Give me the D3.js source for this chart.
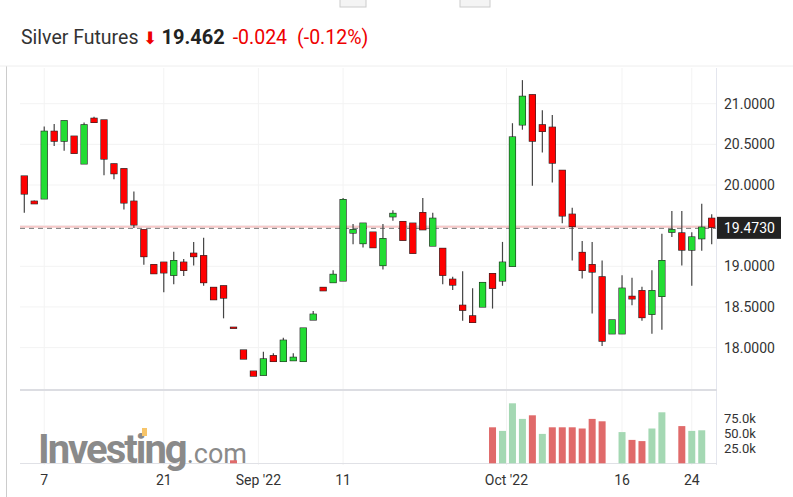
<!DOCTYPE html>
<html><head><meta charset="utf-8">
<script src="https://cdn.jsdelivr.net/npm/d3@7"></script>
<style>body{margin:0;background:#fff;font-family:Roboto,"Noto Sans",sans-serif}</style>
</head><body><svg id="chart" width="793" height="497"></svg>
<script>
// OHLC per candle
const opens  = [20.11,19.80,19.83,20.66,20.54,20.60,20.26,20.82,20.80,20.26,20.20,19.80,19.45,19.02,19.05,18.89,19.05,19.16,19.13,18.74,18.76,18.25,17.97,17.71,17.66,17.90,17.83,17.84,17.83,18.34,18.74,18.80,18.82,19.41,19.28,19.42,19.01,19.61,19.55,19.53,19.66,19.25,19.22,18.84,18.52,18.39,18.50,18.91,18.82,19.00,20.74,21.11,20.74,20.71,20.18,19.64,19.17,19.02,18.87,18.17,18.17,18.63,18.70,18.41,18.63,19.42,19.41,19.20,19.34,19.59];
const highs  = [20.11,19.81,20.72,20.75,20.79,20.60,20.77,20.84,20.80,20.26,20.20,19.92,19.45,19.02,19.05,19.18,19.09,19.30,19.35,18.74,18.76,18.25,17.97,17.71,17.95,17.93,18.12,17.93,18.24,18.45,18.74,18.95,19.84,19.52,19.53,19.42,19.52,19.69,19.55,19.53,19.84,19.66,19.22,18.87,18.94,18.73,18.80,18.91,19.30,20.76,21.29,21.11,20.92,20.86,20.18,19.72,19.31,19.30,19.07,18.34,18.89,18.86,18.75,18.95,19.40,19.68,19.68,19.42,19.77,19.64];
const lows   = [19.66,19.77,19.83,20.48,20.42,20.39,20.26,20.77,20.12,20.07,19.70,19.47,19.02,18.91,18.68,18.78,18.88,19.01,18.76,18.59,18.36,18.245,17.86,17.65,17.66,17.83,17.83,17.84,17.83,18.34,18.70,18.80,18.82,19.27,19.23,19.23,18.96,19.56,19.32,19.16,19.45,19.25,18.78,18.71,18.33,18.31,18.50,18.48,18.76,19.00,20.68,19.99,20.40,20.03,19.53,19.07,18.85,18.42,18.02,18.17,18.17,18.52,18.33,18.17,18.22,19.36,19.01,18.76,19.19,19.27];
const closes = [19.89,19.77,20.66,20.54,20.79,20.39,20.74,20.77,20.32,20.14,19.78,19.51,19.12,18.91,18.92,19.07,18.95,19.12,18.80,18.59,18.61,18.245,17.86,17.65,17.86,17.83,18.09,17.88,18.24,18.41,18.70,18.90,19.82,19.45,19.53,19.23,19.34,19.65,19.32,19.16,19.45,19.59,18.89,18.77,18.46,18.31,18.80,18.73,19.05,20.59,21.09,20.54,20.66,20.27,19.62,19.49,18.95,18.93,18.08,18.34,18.73,18.60,18.37,18.70,19.07,19.45,19.20,19.36,19.48,19.48];
// volume in thousands; 0 = no bar
const volumes = [0,0,0,0,0,0,0,0,0,0,0,0,0,0,0,0,0,0,0,0,0,5,0,0,0,0,0,0,0,0,0,0,0,0,0,0,0,0,0,0,0,0,0,0,0,0,0,60,54,100,74,80,49,60,60,60,58,74,70,0,52,39,37,58,85,0,62,54,55,0];
const priceTicks = [18, 18.5, 19, 20, 20.5, 21];
const volTicks = [25, 50, 75];
const dateTicks = [{i: 2, t: "7"}, {i: 14, t: "21"}, {i: 23.5, t: "Sep '22"}, {i: 32, t: "11"}, {i: 48.4, t: "Oct '22"}, {i: 60, t: "16"}, {i: 67, t: "24"}];
const lastPrice = 19.473;

const svg = d3.select("#chart");
const n = opens.length;
const x = d3.scaleLinear().domain([0, n - 1]).range([24.3, 711.7]);
const y = d3.scaleLinear().domain([18, 21]).range([347.6, 103.7]);
const yv = d3.scaleLinear().domain([0, 75]).range([463.3, 418.3]);

// top bits
svg.append("rect").attr("x", 340).attr("y", -5).attr("width", 26).attr("height", 12).attr("fill", "#f4f4f4").attr("stroke", "#ccc");
svg.append("rect").attr("x", 460).attr("y", -5).attr("width", 30).attr("height", 12).attr("fill", "#f4f4f4").attr("stroke", "#ccc");
svg.append("line").attr("x1", 6.5).attr("x2", 6.5).attr("y1", 66).attr("y2", 497).attr("stroke", "#ccc");
svg.append("line").attr("x1", 0).attr("x2", 793).attr("y1", 66).attr("y2", 66).attr("stroke", "#eee");

// header
const hdr = svg.append("text").attr("x", 21).attr("y", 44).style("font-size", "19.5px");
hdr.append("tspan").attr("fill", "#333").text("Silver Futures ");
hdr.append("tspan").attr("fill", "#e00").attr("font-size", "17px").text("\u2b07 ");
hdr.append("tspan").attr("fill", "#222").attr("font-weight", "bold").attr("font-size", "20px").text("19.462");
hdr.append("tspan").attr("fill", "#e00").attr("dx", 8).text("-0.024");
hdr.append("tspan").attr("fill", "#e00").attr("dx", 10).text("(-0.12%)");

// grid
svg.selectAll(".hg").data(priceTicks.concat([19.5])).join("line")
  .attr("x1", 20).attr("x2", 716).attr("y1", d => y(d)).attr("y2", d => y(d)).attr("stroke", "#f3f3f3");
svg.selectAll(".vg").data(dateTicks).join("line")
  .attr("x1", d => x(d.i)).attr("x2", d => x(d.i)).attr("y1", 68).attr("y2", 465).attr("stroke", "#f3f3f3");

// axes lines
svg.append("line").attr("x1", 716.5).attr("x2", 716.5).attr("y1", 68).attr("y2", 465).attr("stroke", "#e4e6ee");
svg.append("rect").attr("x", 20).attr("y", 389).attr("width", 697).attr("height", 2).attr("fill", "#dcdde2");
svg.append("line").attr("x1", 20).attr("x2", 717).attr("y1", 463.5).attr("y2", 463.5).attr("stroke", "#e0e1e6");

// logo
const logo = svg.append("text").attr("x", 38).attr("y", 463).attr("fill", "#8a8a8a");
logo.append("tspan").attr("font-size", "40px").attr("font-weight", "bold").attr("letter-spacing", "-2").text("Investing");
logo.append("tspan").attr("font-size", "27px").attr("dx", 1).text(".com");
svg.append("rect").attr("x", 142).attr("y", 428).attr("width", 5).attr("height", 8).attr("fill", "#f7c56a");

// volume
svg.selectAll(".vol").data(volumes.map((v, i) => ({v, i}))).join("rect")
  .filter(d => d.v > 0)
  .attr("x", d => x(d.i) - 3.5).attr("width", 7)
  .attr("y", d => yv(d.v)).attr("height", d => yv(0) - yv(d.v))
  .attr("fill", d => (d.i > 0 && closes[d.i] >= closes[d.i - 1]) ? "#a4d8b3" : "#e06a6a");

// last price line
svg.append("line").attr("x1", 20).attr("x2", 716).attr("y1", y(lastPrice) - 1).attr("y2", y(lastPrice) - 1).attr("stroke", "#f7c8c8").attr("stroke-width", 2);
svg.append("line").attr("x1", 20).attr("x2", 716).attr("y1", y(lastPrice) + 0.5).attr("y2", y(lastPrice) + 0.5).attr("stroke", "#777").attr("stroke-dasharray", "5,4");

// candles
const idx = d3.range(n);
svg.selectAll(".wick").data(idx).join("line")
  .attr("x1", i => x(i)).attr("x2", i => x(i))
  .attr("y1", i => y(highs[i])).attr("y2", i => y(lows[i]))
  .attr("stroke", "#444").attr("stroke-width", 1.2);
svg.selectAll(".body").data(idx).join("rect")
  .attr("x", i => x(i) - 3).attr("width", 6)
  .attr("y", i => y(Math.max(opens[i], closes[i])))
  .attr("height", i => Math.max(1, Math.abs(y(opens[i]) - y(closes[i]))))
  .attr("fill", i => closes[i] >= opens[i] ? "#22dd33" : "#ff0000")
  .attr("stroke", "#222").attr("stroke-width", 1.2)
  .style("paint-order", "stroke");

// price labels
svg.selectAll(".pl").data(priceTicks).join("text")
  .attr("x", 724).attr("y", d => y(d) + 5).attr("fill", "#333").style("font-size", "14px")
  .text(d => d.toFixed(4));
svg.append("rect").attr("x", 717).attr("y", y(lastPrice) - 11).attr("width", 64).attr("height", 22).attr("fill", "#222");
svg.append("text").attr("x", 724).attr("y", y(lastPrice) + 5).attr("fill", "#fff").style("font-size", "14px").text(lastPrice.toFixed(4));

svg.selectAll(".vl").data(volTicks).join("text")
  .attr("x", 724).attr("y", d => yv(d) + 5).attr("fill", "#333").style("font-size", "13px")
  .text(d => d.toFixed(1) + "k");

// date labels
svg.selectAll(".dl").data(dateTicks).join("text")
  .attr("x", d => x(d.i)).attr("y", 485).attr("text-anchor", "middle").attr("fill", "#333").style("font-size", "14px")
  .text(d => d.t);
</script></body></html>
